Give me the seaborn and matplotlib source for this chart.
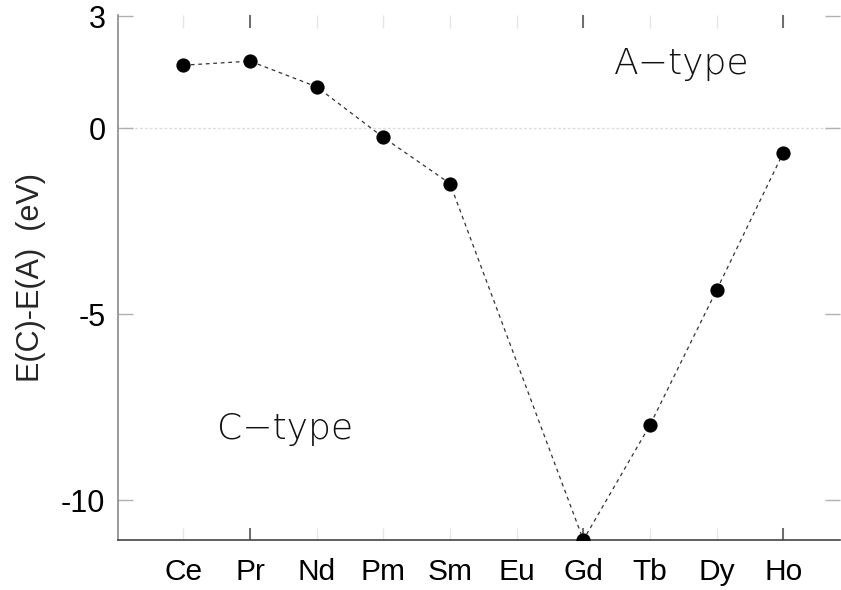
import numpy as np
import pandas as pd
import matplotlib
matplotlib.use("Agg")
import matplotlib.pyplot as plt
import seaborn as sns

# ---- data ----
elements = ["Ce", "Pr", "Nd", "Pm", "Sm", "Eu", "Gd", "Tb", "Dy", "Ho"]
energy = [1.69, 1.80, 1.11, -0.25, -1.49, np.nan, -11.07, -7.98, -4.35, -0.66]
yticks = [3, 0, -5, -10]
ytick_labels = ["3", "0", "-5", "-10"]
ylabel = "E(C)-E(A)  (eV)"
region_labels = ["A\u2212type", "C\u2212type"]

df = pd.DataFrame({"pos": np.arange(len(elements)), "element": elements, "E": energy})
df_valid = df.dropna()

sns.set_theme(style="white")
plt.rcParams["font.family"] = ["Liberation Sans", "DejaVu Sans"]

fig = plt.figure(figsize=(8.41, 5.90), dpi=100)
ax = fig.add_axes([118 / 841, 1 - 540 / 590, (840 - 118) / 841, (540 - 15) / 590])

# faint zero line
ax.axhline(0, color="#dcdcdc", lw=1.0, ls=(0, (2, 1.5)), zorder=0, xmin=0.01)

sns.lineplot(data=df_valid, x="pos", y="E", ax=ax, color="#333333", lw=0.9,
             linestyle=(0, (3, 3)), sort=False, zorder=2)
sns.scatterplot(data=df_valid, x="pos", y="E", ax=ax, color="black", s=105,
                edgecolor="black", linewidth=0, zorder=3, clip_on=True)

ax.set_xlim(-0.98, 9.85)
ax.set_ylim(-11.07, 3.04)
ax.set_xticks(df["pos"])
ax.set_xticklabels(elements)
ax.set_yticks(yticks)
ax.set_yticklabels(ytick_labels)
ax.set_xlabel("")
ax.set_ylabel(ylabel, fontsize=22, labelpad=11)

for side in ["top", "right"]:
    ax.spines[side].set_visible(False)
ax.spines["left"].set_color("#8a8a8a")
ax.spines["bottom"].set_color("#444444")
ax.spines["left"].set_linewidth(1.2)
ax.spines["bottom"].set_linewidth(1.2)

ax.tick_params(axis="x", which="major", direction="in", length=9, width=1,
               color="#e6e6e6", top=True, bottom=True, labelsize=21.5, pad=13,
               labelcolor="black")
ax.tick_params(axis="y", which="major", direction="in", length=11, width=1,
               color="#b0b0b0", left=True, right=True, labelsize=22, pad=9,
               labelcolor="black")

# darker ticks at a few positions
ax.xaxis.remove_overlapping_locs = False
ax.set_xticks([1, 6, 9], minor=True)
ax.tick_params(axis="x", which="minor", direction="in", length=9, width=1.2,
               color="#555555", top=True, bottom=True)

ax.text((682 - 183) / 66.7, 1.72, region_labels[0], fontsize=26, fontweight="light",
        family=["DejaVu Sans"], ha="center", va="center", color="#111111")
ax.text((285 - 183) / 66.7, -8.09, region_labels[1], fontsize=26, fontweight="light",
        family=["DejaVu Sans"], ha="center", va="center", color="#111111")

ax.grid(False)
fig.savefig("out.png", dpi=100)
